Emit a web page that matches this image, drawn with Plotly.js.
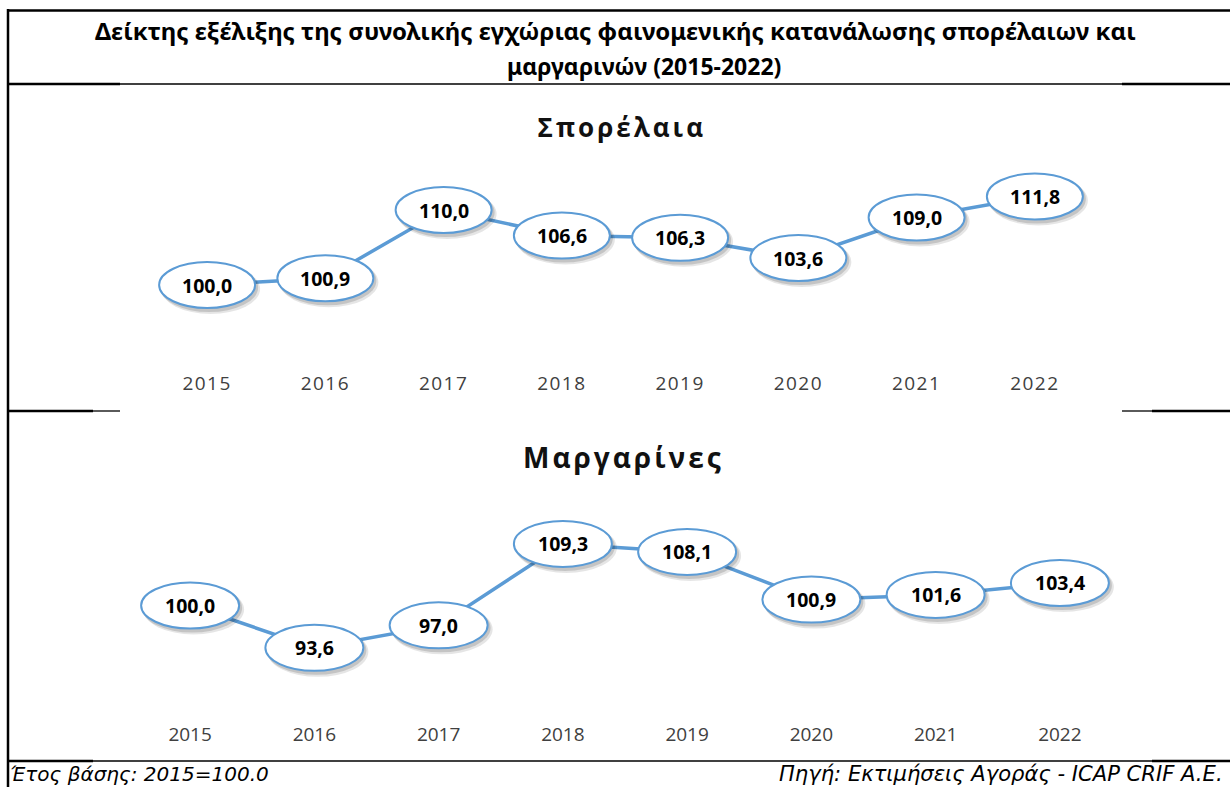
<!DOCTYPE html>
<html><head><meta charset="utf-8">
<script src="https://cdn.plot.ly/plotly-3.0.1.min.js"></script>
<style>
html,body{margin:0;padding:0;background:#fff}
#chart{width:1230px;height:787px}
.xtick text{letter-spacing:1.5px}
g.annotation[data-index="0"] text, g.annotation[data-index="1"] text{letter-spacing:3px}
</style></head><body><div id="chart"></div>
<script>
// ---- data ----
const years = ['2015','2016','2017','2018','2019','2020','2021','2022'];
const seedOilIndex = [100.0,100.9,110.0,106.6,106.3,103.6,109.0,111.8];
const margarineIndex = [100.0,93.6,97.0,109.3,108.1,100.9,101.6,103.4];
const chartTitles = ['Σπορέλαια','Μαργαρίνες'];
const titleLines = ['Δείκτης εξέλιξης της συνολικής εγχώριας φαινομενικής κατανάλωσης σπορέλαιων και','μαργαρινών (2015-2022)'];
const footLeft = 'Έτος βάσης: 2015=100.0';
const footRight = 'Πηγή: Εκτιμήσεις Αγοράς - ICAP CRIF A.E.';

// ---- layout helpers ----
const W = 1230, H = 787;
const px = x => x / W;
const py = y => 1 - y / H;
const idx = years.map((_, i) => i);
const fmt = v => v.toFixed(1).replace('.', ',');
const blue = '#5b9bd5';

const traces = [
  {x: idx, y: seedOilIndex, xaxis: 'x', yaxis: 'y', mode: 'lines', line: {color: blue, width: 3.5}, hoverinfo: 'skip', showlegend: false},
  {x: idx, y: margarineIndex, xaxis: 'x2', yaxis: 'y2', mode: 'lines', line: {color: blue, width: 3.5}, hoverinfo: 'skip', showlegend: false}
];

const shapes = [];
const annotations = [];

// chart titles
annotations.push({xref: 'paper', yref: 'paper', x: px(622), y: py(127), text: '<b>' + chartTitles[0] + '</b>', showarrow: false, xanchor: 'center', yanchor: 'middle', font: {family: 'Open Sans', size: 26, color: '#111'}});
annotations.push({xref: 'paper', yref: 'paper', x: px(623), y: py(457), text: '<b>' + chartTitles[1] + '</b>', showarrow: false, xanchor: 'center', yanchor: 'middle', font: {family: 'Open Sans', size: 28, color: '#111'}});

function addBubbles(vals, xr, yr, hw, hh) {
  vals.forEach((v, i) => {
    shapes.push({type: 'circle', xref: xr, yref: yr, xsizemode: 'pixel', ysizemode: 'pixel', xanchor: i, yanchor: v,
      x0: -hw + 2, x1: hw + 5, y0: -hh - 6, y1: hh - 2, fillcolor: 'rgba(0,0,0,0.10)', line: {width: 0}});
    shapes.push({type: 'circle', xref: xr, yref: yr, xsizemode: 'pixel', ysizemode: 'pixel', xanchor: i, yanchor: v,
      x0: -hw + 1, x1: hw + 3, y0: -hh - 4, y1: hh - 1, fillcolor: 'rgba(0,0,0,0.14)', line: {width: 0}});
    shapes.push({type: 'circle', xref: xr, yref: yr, xsizemode: 'pixel', ysizemode: 'pixel', xanchor: i, yanchor: v,
      x0: -hw, x1: hw, y0: -hh, y1: hh, fillcolor: '#ffffff', line: {color: blue, width: 2}});
    annotations.push({xref: xr, yref: yr, x: i, y: v, text: '<b>' + fmt(v) + '</b>', showarrow: false,
      xanchor: 'center', yanchor: 'middle', font: {family: 'Noto Sans', size: 19.5, color: '#000'}});
  });
}
addBubbles(seedOilIndex, 'x', 'y', 48, 23);
addBubbles(margarineIndex, 'x2', 'y2', 49, 23);

// title & footer
annotations.push({xref: 'paper', yref: 'paper', x: px(615), y: py(31), text: '<b>' + titleLines[0] + '</b>', showarrow: false, xanchor: 'center', yanchor: 'middle', font: {family: 'Noto Sans', size: 24, color: '#000'}});
annotations.push({xref: 'paper', yref: 'paper', x: px(644), y: py(66), text: '<b>' + titleLines[1] + '</b>', showarrow: false, xanchor: 'center', yanchor: 'middle', font: {family: 'Noto Sans', size: 23, color: '#000'}});
annotations.push({xref: 'paper', yref: 'paper', x: px(9), y: 0, text: '<i>' + footLeft + '</i>', showarrow: false, xanchor: 'left', yanchor: 'bottom', borderpad: 0, font: {family: 'DejaVu Sans', size: 20, color: '#000'}});
annotations.push({xref: 'paper', yref: 'paper', x: px(1224), y: 0, text: '<i>' + footRight + '</i>', showarrow: false, xanchor: 'right', yanchor: 'bottom', borderpad: 0, font: {family: 'DejaVu Sans', size: 21.1, color: '#000'}});

// table borders
function hline(y, x0, x1, w) { shapes.push({type: 'line', xref: 'paper', yref: 'paper', x0: px(x0), x1: px(x1), y0: py(y), y1: py(y), line: {color: '#000', width: w}}); }
function vline(x, y0, y1, w) { shapes.push({type: 'line', xref: 'paper', yref: 'paper', x0: px(x), x1: px(x), y0: py(y0), y1: py(y1), line: {color: '#000', width: w}}); }
hline(10.5, 7, 1230, 2.5);
vline(8, 9, 787, 2.5);
hline(84, 8, 1230, 1.3); hline(84, 8, 120, 2.5); hline(84, 1122, 1230, 2.5);
hline(411, 8, 93, 2.5); hline(411, 93, 120, 1.3); hline(411, 1122, 1152, 1.3); hline(411, 1152, 1230, 2.5);
hline(761, 8, 1230, 1.3); hline(761, 8, 93, 2.5); hline(761, 1152, 1230, 2.5);

const xcommon = {range: [-0.5, 7.5], tickvals: idx, ticktext: years, showgrid: false, zeroline: false, showline: false, ticks: '', fixedrange: true,
  tickfont: {family: 'Open Sans', size: 19, color: '#404040'}};
const layout = {
  width: W, height: H, margin: {l: 0, r: 0, t: 0, b: 0}, paper_bgcolor: '#fff', plot_bgcolor: 'rgba(0,0,0,0)', showlegend: false,
  xaxis: Object.assign({}, xcommon, {domain: [px(148), px(1094)], anchor: 'y'}),
  yaxis: {domain: [py(370), py(150)], range: [100 - 85 / 7.5, 100 + 135 / 7.5], visible: false, fixedrange: true},
  xaxis2: Object.assign({}, xcommon, {domain: [px(128), px(1122)], anchor: 'y2'}),
  yaxis2: {domain: [py(721), py(480)], range: [100 - (721 - 605.5) / 6.62, 100 + (605.5 - 480) / 6.62], visible: false, fixedrange: true},
  shapes: shapes, annotations: annotations
};
Plotly.newPlot('chart', traces, layout, {displayModeBar: false, staticPlot: true});
</script></body></html>
